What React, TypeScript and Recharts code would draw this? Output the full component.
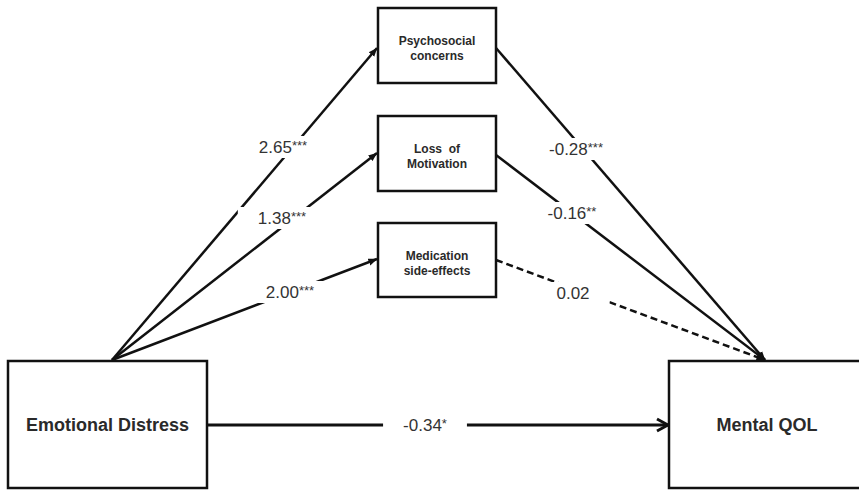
import React from 'react'
import { ComposedChart, XAxis, YAxis, ReferenceArea, ReferenceLine, Scatter } from 'recharts'

// boxes of the mediation model (diagram coordinates, y grows downward)
const boxLabels = [['Emotional Distress'], ['Mental QOL'], ['Psychosocial', 'concerns'], ['Loss  of', 'Motivation'], ['Medication', 'side-effects']]
const boxX1 = [8, 669, 378, 378, 378]
const boxX2 = [207, 865, 496, 496, 496]
const boxY1 = [361, 361, 8, 116, 223]
const boxY2 = [488, 488, 83, 191, 297]

// paths (a paths, b paths, direct effect c')
const pathFromX = [112, 112, 112, 496, 496, 496, 207]
const pathFromY = [360, 360, 360, 48, 155, 260, 425]
const pathToX = [377, 377, 377, 765, 765, 765, 668]
const pathToY = [48, 153, 259, 360, 360, 360, 425]
const pathDashed = [false, false, false, false, false, true, false]

// coefficients written on the paths
const coefValues = ['2.65', '1.38', '2.00', '-0.28', '-0.16', '0.02', '-0.34']
const coefStars = ['***', '***', '***', '***', '**', '', '*']
const coefX = [283, 282, 290, 576, 572, 573, 425]
const coefY = [147, 218, 292, 149, 213, 293, 425]

const coefData = coefValues.map((v, i) => ({ x: coefX[i], y: coefY[i], value: v, stars: coefStars[i] }))

const FONT = '"Liberation Sans", Arial, sans-serif'
const INK = '#111'

const charW = (c: string) => (c === '.' ? 4.7 : c === '-' ? 5.7 : 9.45)

const CoefLabel = (p: any) => {
  const { cx, cy, payload } = p
  const w = payload.value.split('').reduce((s: number, c: string) => s + charW(c), 0) + payload.stars.length * 5.1
  return (
    <g>
      <rect x={cx - w / 2 - 20} y={cy - 11} width={w + 40} height={22} fill="#fff" />
      <text x={cx} y={cy + 6} textAnchor="middle" fontFamily={FONT} fontSize={17} fill="#333">
        {payload.value}
        {payload.stars && <tspan fontSize={13} dy={-3}>{payload.stars}</tspan>}
      </text>
    </g>
  )
}

const boxShape = (lines: string[]) => (p: any) => {
  const x = Math.min(p.x, p.x + p.width)
  const y = Math.min(p.y, p.y + p.height)
  const w = Math.abs(p.width)
  const h = Math.abs(p.height)
  const big = lines.length === 1
  const fs = big ? 18 : 12
  const lh = 15
  const cx = x + w / 2
  const cy = y + h / 2 + (big ? 0 : 3)
  return (
    <g>
      <rect x={x} y={y} width={w} height={h} fill="#fff" stroke={INK} strokeWidth={2.5} />
      {lines.map((t, i) => (
        <text key={i} x={cx} y={cy + (i - (lines.length - 1) / 2) * lh} textAnchor="middle"
          dominantBaseline="central" fontFamily={FONT} fontWeight="bold" fontSize={fs} fill="#2a2a2a"
          style={{ whiteSpace: 'pre' }}>
          {t}
        </text>
      ))}
    </g>
  )
}

const pathShape = (i: number) => (p: any) => (
  <line x1={p.x1} y1={p.y1} x2={p.x2} y2={p.y2} stroke={INK}
    strokeWidth={i === 6 ? 3 : 2.5}
    strokeDasharray={pathDashed[i] ? '7 4' : undefined}
    markerEnd={i === 6 ? 'url(#chev)' : 'url(#tri)'} />
)

export default function App() {
  return (
    <div style={{ position: 'absolute', left: 0, top: 0, background: '#fff' }}>
      <svg width={0} height={0} style={{ position: 'absolute' }}>
        <defs>
          <marker id="tri" viewBox="0 0 10 10" refX={9.5} refY={5} markerWidth={9} markerHeight={9}
            markerUnits="userSpaceOnUse" orient="auto">
            <path d="M0,1 L10,5 L0,9 z" fill={INK} />
          </marker>
          <marker id="chev" viewBox="0 0 16 16" refX={14} refY={8} markerWidth={16} markerHeight={16}
            markerUnits="userSpaceOnUse" orient="auto">
            <path d="M3,2 L14,8 L3,14" fill="none" stroke={INK} strokeWidth={3} />
          </marker>
        </defs>
      </svg>
      <ComposedChart width={859} height={490} margin={{ top: 0, right: 0, bottom: 0, left: 0 }}>
        <XAxis type="number" dataKey="x" domain={[0, 859]} allowDataOverflow hide />
        <YAxis type="number" dataKey="y" domain={[0, 490]} reversed allowDataOverflow hide />
        {boxLabels.map((lines, i) => (
          <ReferenceArea key={'b' + i} x1={boxX1[i]} x2={boxX2[i]} y1={boxY1[i]} y2={boxY2[i]}
            ifOverflow="visible" shape={boxShape(lines)} />
        ))}
        {pathFromX.map((_, i) => (
          <ReferenceLine key={'p' + i} ifOverflow="visible"
            segment={[{ x: pathFromX[i], y: pathFromY[i] }, { x: pathToX[i], y: pathToY[i] }]}
            shape={pathShape(i)} />
        ))}
        <Scatter data={coefData} shape={CoefLabel} isAnimationActive={false} />
      </ComposedChart>
    </div>
  )
}
